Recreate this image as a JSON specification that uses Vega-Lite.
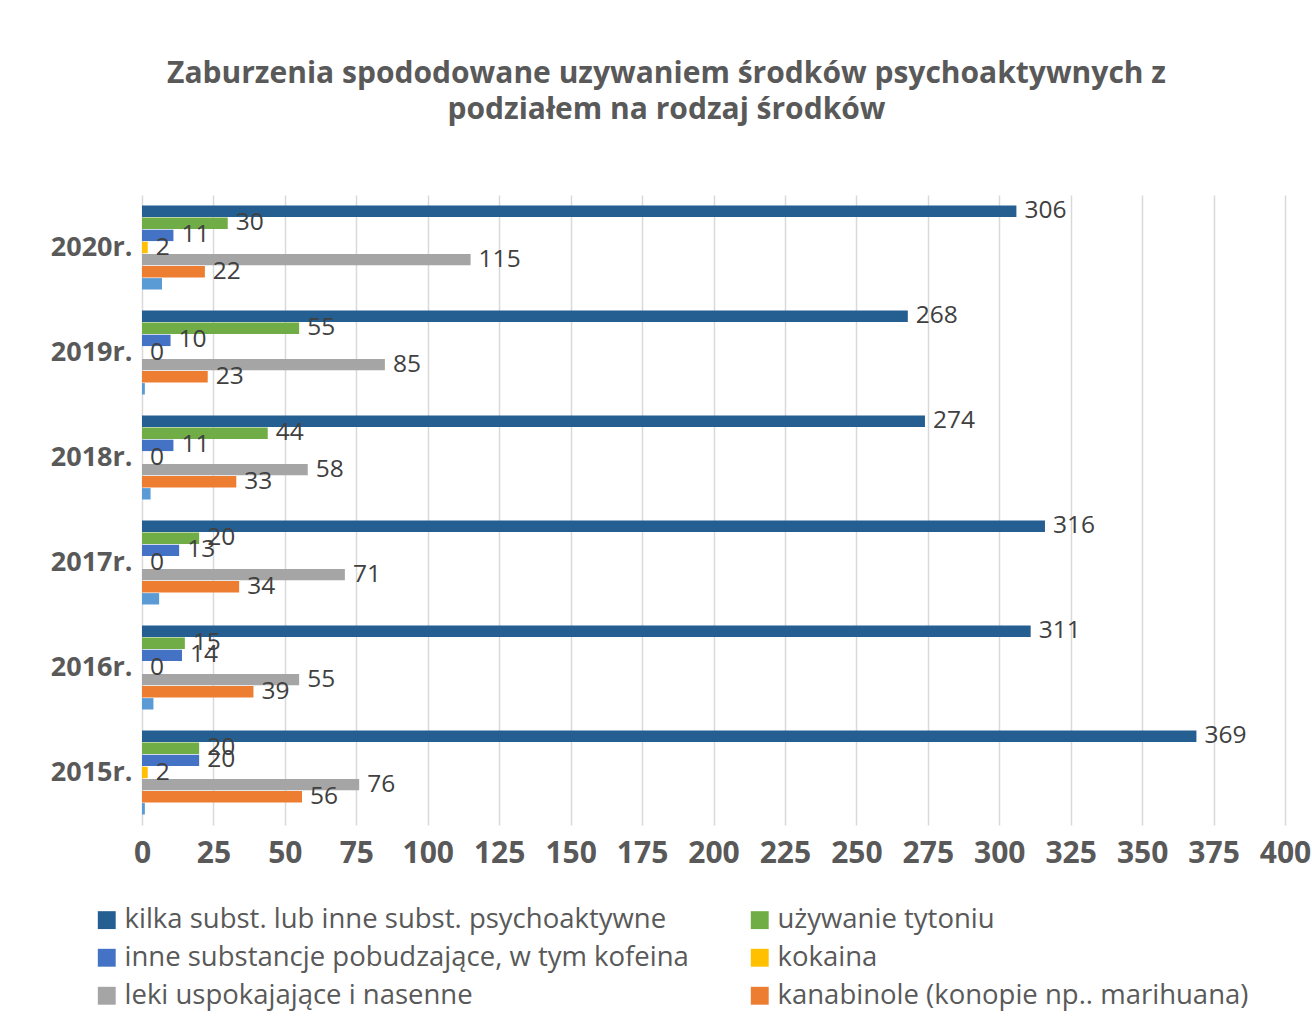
{
  "$schema": "https://vega.github.io/schema/vega-lite/v6.json",
  "width": 1143,
  "height": 630,
  "padding": {"left": 50, "top": 59, "right": 0, "bottom": 5},
  "autosize": {"type": "pad"},
  "background": "white",
  "title": {
    "text": ["Zaburzenia spododowane uzywaniem środków psychoaktywnych z", "podziałem na rodzaj środków"],
    "font": "Open Sans",
    "fontSize": 30,
    "fontWeight": "bold",
    "color": "#595959",
    "lineHeight": 36,
    "anchor": "middle",
    "frame": "group",
    "dx": -47,
    "offset": 70
  },
  "config": {
    "view": {"stroke": null},
    "font": "Open Sans"
  },
  "data": {
    "values": [
      {"rok": "2020r.", "seria": "kilka subst. lub inne subst. psychoaktywne", "wartosc": 306},
      {"rok": "2020r.", "seria": "używanie tytoniu", "wartosc": 30},
      {"rok": "2020r.", "seria": "inne substancje pobudzające, w tym kofeina", "wartosc": 11},
      {"rok": "2020r.", "seria": "kokaina", "wartosc": 2},
      {"rok": "2020r.", "seria": "leki uspokajające i nasenne", "wartosc": 115},
      {"rok": "2020r.", "seria": "kanabinole (konopie np.. marihuana)", "wartosc": 22},
      {"rok": "2020r.", "seria": "pozostałe", "wartosc": 7},
      {"rok": "2019r.", "seria": "kilka subst. lub inne subst. psychoaktywne", "wartosc": 268},
      {"rok": "2019r.", "seria": "używanie tytoniu", "wartosc": 55},
      {"rok": "2019r.", "seria": "inne substancje pobudzające, w tym kofeina", "wartosc": 10},
      {"rok": "2019r.", "seria": "kokaina", "wartosc": 0},
      {"rok": "2019r.", "seria": "leki uspokajające i nasenne", "wartosc": 85},
      {"rok": "2019r.", "seria": "kanabinole (konopie np.. marihuana)", "wartosc": 23},
      {"rok": "2019r.", "seria": "pozostałe", "wartosc": 1},
      {"rok": "2018r.", "seria": "kilka subst. lub inne subst. psychoaktywne", "wartosc": 274},
      {"rok": "2018r.", "seria": "używanie tytoniu", "wartosc": 44},
      {"rok": "2018r.", "seria": "inne substancje pobudzające, w tym kofeina", "wartosc": 11},
      {"rok": "2018r.", "seria": "kokaina", "wartosc": 0},
      {"rok": "2018r.", "seria": "leki uspokajające i nasenne", "wartosc": 58},
      {"rok": "2018r.", "seria": "kanabinole (konopie np.. marihuana)", "wartosc": 33},
      {"rok": "2018r.", "seria": "pozostałe", "wartosc": 3},
      {"rok": "2017r.", "seria": "kilka subst. lub inne subst. psychoaktywne", "wartosc": 316},
      {"rok": "2017r.", "seria": "używanie tytoniu", "wartosc": 20},
      {"rok": "2017r.", "seria": "inne substancje pobudzające, w tym kofeina", "wartosc": 13},
      {"rok": "2017r.", "seria": "kokaina", "wartosc": 0},
      {"rok": "2017r.", "seria": "leki uspokajające i nasenne", "wartosc": 71},
      {"rok": "2017r.", "seria": "kanabinole (konopie np.. marihuana)", "wartosc": 34},
      {"rok": "2017r.", "seria": "pozostałe", "wartosc": 6},
      {"rok": "2016r.", "seria": "kilka subst. lub inne subst. psychoaktywne", "wartosc": 311},
      {"rok": "2016r.", "seria": "używanie tytoniu", "wartosc": 15},
      {"rok": "2016r.", "seria": "inne substancje pobudzające, w tym kofeina", "wartosc": 14},
      {"rok": "2016r.", "seria": "kokaina", "wartosc": 0},
      {"rok": "2016r.", "seria": "leki uspokajające i nasenne", "wartosc": 55},
      {"rok": "2016r.", "seria": "kanabinole (konopie np.. marihuana)", "wartosc": 39},
      {"rok": "2016r.", "seria": "pozostałe", "wartosc": 4},
      {"rok": "2015r.", "seria": "kilka subst. lub inne subst. psychoaktywne", "wartosc": 369},
      {"rok": "2015r.", "seria": "używanie tytoniu", "wartosc": 20},
      {"rok": "2015r.", "seria": "inne substancje pobudzające, w tym kofeina", "wartosc": 20},
      {"rok": "2015r.", "seria": "kokaina", "wartosc": 2},
      {"rok": "2015r.", "seria": "leki uspokajające i nasenne", "wartosc": 76},
      {"rok": "2015r.", "seria": "kanabinole (konopie np.. marihuana)", "wartosc": 56},
      {"rok": "2015r.", "seria": "pozostałe", "wartosc": 1}
    ]
  },
  "encoding": {
    "y": {
      "field": "rok",
      "type": "nominal",
      "sort": ["2020r.", "2019r.", "2018r.", "2017r.", "2016r.", "2015r."],
      "scale": {"paddingInner": 0.2, "paddingOuter": 0.1},
      "axis": {
        "title": null,
        "ticks": false,
        "domain": false,
        "labelFont": "Open Sans",
        "labelFontSize": 27,
        "labelFontWeight": "bold",
        "labelColor": "#595959",
        "labelPadding": 10
      }
    },
    "yOffset": {
      "field": "seria",
      "type": "nominal",
      "sort": [
        "kilka subst. lub inne subst. psychoaktywne",
        "używanie tytoniu",
        "inne substancje pobudzające, w tym kofeina",
        "kokaina",
        "leki uspokajające i nasenne",
        "kanabinole (konopie np.. marihuana)",
        "pozostałe"
      ],
      "scale": {"paddingInner": 0.06}
    },
    "x": {
      "field": "wartosc",
      "type": "quantitative",
      "scale": {"domain": [0, 400], "nice": false},
      "axis": {
        "title": null,
        "values": [0, 25, 50, 75, 100, 125, 150, 175, 200, 225, 250, 275, 300, 325, 350, 375, 400],
        "ticks": false,
        "domain": false,
        "grid": true,
        "gridColor": "#d9d9d9",
        "gridWidth": 1.5,
        "labelFont": "Open Sans",
        "labelFontSize": 30,
        "labelFontWeight": "bold",
        "labelColor": "#595959",
        "labelPadding": 13,
        "labelFlush": false
      }
    }
  },
  "layer": [
    {
      "mark": {"type": "bar"},
      "encoding": {
        "color": {
          "field": "seria",
          "type": "nominal",
          "scale": {
            "domain": [
              "kilka subst. lub inne subst. psychoaktywne",
              "używanie tytoniu",
              "inne substancje pobudzające, w tym kofeina",
              "kokaina",
              "leki uspokajające i nasenne",
              "kanabinole (konopie np.. marihuana)",
              "pozostałe"
            ],
            "range": ["#255E91", "#70AD47", "#4472C4", "#FFC000", "#A5A5A5", "#ED7D31", "#5B9BD5"]
          },
          "legend": {
            "title": null,
            "orient": "none",
            "legendX": -49,
            "legendY": 711,
            "columns": 2,
            "direction": "horizontal",
            "values": [
              "kilka subst. lub inne subst. psychoaktywne",
              "używanie tytoniu",
              "inne substancje pobudzające, w tym kofeina",
              "kokaina",
              "leki uspokajające i nasenne",
              "kanabinole (konopie np.. marihuana)"
            ],
            "symbolType": "square",
            "symbolSize": 320,
            "symbolStrokeWidth": 0,
            "labelFont": "Open Sans",
            "labelFontSize": 27.5,
            "labelColor": "#595959",
            "labelLimit": 800,
            "labelOffset": 4,
            "rowPadding": 9,
            "columnPadding": 57
          }
        }
      }
    },
    {
      "transform": [{"filter": "datum.seria !== 'pozostałe'"}],
      "mark": {"type": "text", "align": "left", "baseline": "middle", "dx": 8, "font": "Open Sans", "fontSize": 24.5, "color": "#404040"},
      "encoding": {
        "text": {"field": "wartosc", "type": "quantitative"}
      }
    }
  ]
}
